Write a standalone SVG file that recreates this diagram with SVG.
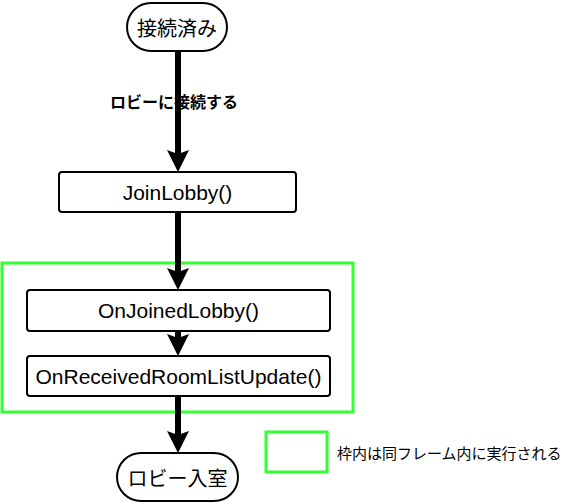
<svg xmlns="http://www.w3.org/2000/svg" width="577" height="504" viewBox="0 0 577 504">
<style>
.node{fill:#fff;stroke:#000;stroke-width:2}
.frame{fill:none;stroke:#3f3;stroke-width:3}
.conn{stroke:#000;stroke-width:6;fill:none}
.lat{font-family:"Liberation Sans",Arial,sans-serif;font-size:21px;fill:#000;text-anchor:middle;dominant-baseline:central}
.jp{font-family:"Noto Sans CJK JP",sans-serif;fill:#000;dominant-baseline:central}
</style>
<defs>
<marker id="ah" viewBox="0 -11 22 22" refX="4" refY="0" markerWidth="22" markerHeight="22" markerUnits="userSpaceOnUse" orient="auto">
<path d="M0,-11 L22,0 L0,11 L4,0 Z" fill="#000"/>
</marker>
</defs>
<rect class="frame" x="2" y="263" width="351" height="149"/>
<g id="connectors">
<line class="conn" x1="178" y1="51" x2="178" y2="154" marker-end="url(#ah)"/>
<line class="conn" x1="178" y1="212" x2="178" y2="272" marker-end="url(#ah)"/>
<line class="conn" x1="178" y1="331" x2="178" y2="338" marker-end="url(#ah)"/>
<line class="conn" x1="178" y1="396" x2="178" y2="435" marker-end="url(#ah)"/>
<text class="jp" x="174" y="101" font-size="16" font-weight="bold" text-anchor="middle">ロビーに接続する</text>
</g>
<g id="start">
<rect class="node" x="127" y="3" width="100" height="48" rx="24"/>
<text class="jp" x="177" y="27" font-size="20" text-anchor="middle">接続済み</text>
</g>
<g id="joinLobby">
<rect class="node" x="59" y="172" width="237" height="40" rx="3"/>
<text class="lat" x="177.5" y="192">JoinLobby()</text>
</g>
<g id="onJoinedLobby">
<rect class="node" x="27" y="290" width="303" height="41" rx="3"/>
<text class="lat" x="178.5" y="310.5">OnJoinedLobby()</text>
</g>
<g id="onReceived">
<rect class="node" x="27" y="356" width="303" height="40" rx="3"/>
<text class="lat" x="178.5" y="376">OnReceivedRoomListUpdate()</text>
</g>
<g id="end">
<rect class="node" x="117" y="453" width="121" height="48" rx="24"/>
<text class="jp" x="177.5" y="477" font-size="20" text-anchor="middle">ロビー入室</text>
</g>
<g id="legend">
<rect class="frame" x="266" y="432" width="61" height="40"/>
<text class="jp" x="337" y="452" font-size="15">枠内は同フレーム内に実行される</text>
</g>
</svg>
